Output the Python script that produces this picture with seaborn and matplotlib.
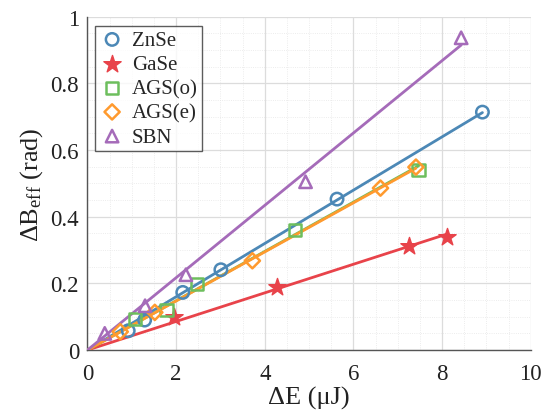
import numpy as np
import pandas as pd
import matplotlib
matplotlib.use('Agg')
import matplotlib.pyplot as plt
from matplotlib.ticker import MultipleLocator, FuncFormatter
import seaborn as sns

znse_x = [0.92, 1.29, 2.15, 3.01, 5.63, 8.91]
znse_y = [0.058, 0.090, 0.173, 0.241, 0.453, 0.714]

gase_x = [1.95, 4.27, 7.25, 8.11]
gase_y = [0.100, 0.190, 0.313, 0.339]

agso_x = [1.07, 1.78, 2.47, 4.68, 7.47]
agso_y = [0.093, 0.120, 0.198, 0.360, 0.540]

agse_x = [0.74, 1.52, 3.72, 6.61, 7.41]
agse_y = [0.055, 0.113, 0.268, 0.486, 0.549]

sbn_x = [0.39, 1.30, 2.22, 4.92, 8.43]
sbn_y = [0.050, 0.133, 0.226, 0.505, 0.937]

labels = ['ZnSe', 'GaSe', 'AGS(o)', 'AGS(e)', 'SBN']
colors = ['#4C88B6', '#E8434A', '#6DBE5D', '#FF9A2E', '#A56BB9']
markers = ['o', '*', 's', 'D', '^']

series = [(znse_x, znse_y), (gase_x, gase_y), (agso_x, agso_y),
          (agse_x, agse_y), (sbn_x, sbn_y)]

sns.set_style('white')
plt.rcParams['font.family'] = ['Liberation Serif', 'DejaVu Serif']
plt.rcParams['mathtext.fontset'] = 'custom'
plt.rcParams['mathtext.rm'] = 'Liberation Serif'
plt.rcParams['mathtext.it'] = 'Liberation Serif:italic'

fig = plt.figure(figsize=(5.5, 4.14), dpi=100)
ax = fig.add_axes([0.159, 0.152, 0.806, 0.805])

# fitted lines through the origin, from 0 to the last point
for (x, y), lab, col in zip(series, labels, colors):
    x = np.asarray(x)
    y = np.asarray(y)
    k = np.sum(x * y) / np.sum(x * x)
    xx = np.array([0.0, x.max()])
    fit = pd.DataFrame({'x': xx, 'y': k * xx})
    sns.lineplot(data=fit, x='x', y='y', color=col, lw=2.0, ax=ax,
                 legend=False, zorder=3)

# markers
for (x, y), lab, col, m in zip(series, labels, colors, markers):
    d = pd.DataFrame({'x': x, 'y': y})
    if m == '*':
        sns.scatterplot(data=d, x='x', y='y', marker=m, s=170, color=col,
                        edgecolor=col, linewidth=1.0, label=lab, ax=ax,
                        zorder=4)
    else:
        sz = 80 if m != 'D' else 60
        sns.scatterplot(data=d, x='x', y='y', marker=m, s=sz,
                        facecolor='none', edgecolor=col, linewidth=1.8,
                        label=lab, ax=ax, zorder=4)

ax.set_xlim(0, 10)
ax.set_ylim(0, 1)
ax.xaxis.set_major_locator(MultipleLocator(2))
ax.xaxis.set_minor_locator(MultipleLocator(0.5))
ax.yaxis.set_major_locator(MultipleLocator(0.2))
ax.yaxis.set_minor_locator(MultipleLocator(0.05))
fmt = FuncFormatter(lambda v, p: '%g' % round(v, 3))
ax.xaxis.set_major_formatter(fmt)
ax.yaxis.set_major_formatter(fmt)

ax.grid(True, which='major', color='#DCDCDC', lw=0.9, zorder=0)
ax.grid(True, which='minor', color='#E6E6E6', lw=0.6, ls=':', zorder=0)
ax.set_axisbelow(True)

for s in ['top', 'right']:
    ax.spines[s].set_visible(False)
for s in ['left', 'bottom']:
    ax.spines[s].set_color('#555555')
    ax.spines[s].set_linewidth(1.0)

ax.tick_params(axis='both', which='major', direction='in', length=5,
               width=1.0, color='#333333', labelsize=16.5, labelcolor='#222222')
ax.tick_params(axis='both', which='minor', length=0)
ax.tick_params(axis='x', pad=9)
ax.tick_params(axis='y', pad=6)

ax.set_xlabel('ΔE (μJ)', fontsize=19, color='#222222', labelpad=2)
ax.set_ylabel(r'ΔB$_{\mathrm{eff}}$ (rad)', fontsize=19, color='#222222',
              labelpad=4)

leg = ax.legend(loc='upper left', bbox_to_anchor=(0.018, 0.972),
                fontsize=15, frameon=True, fancybox=False,
                handletextpad=0.35, borderpad=0.2, labelspacing=0.22,
                handlelength=1.2, borderaxespad=0.0)
leg.get_frame().set_edgecolor('#333333')
leg.get_frame().set_linewidth(1.0)

fig.savefig('out.png', dpi=100)
